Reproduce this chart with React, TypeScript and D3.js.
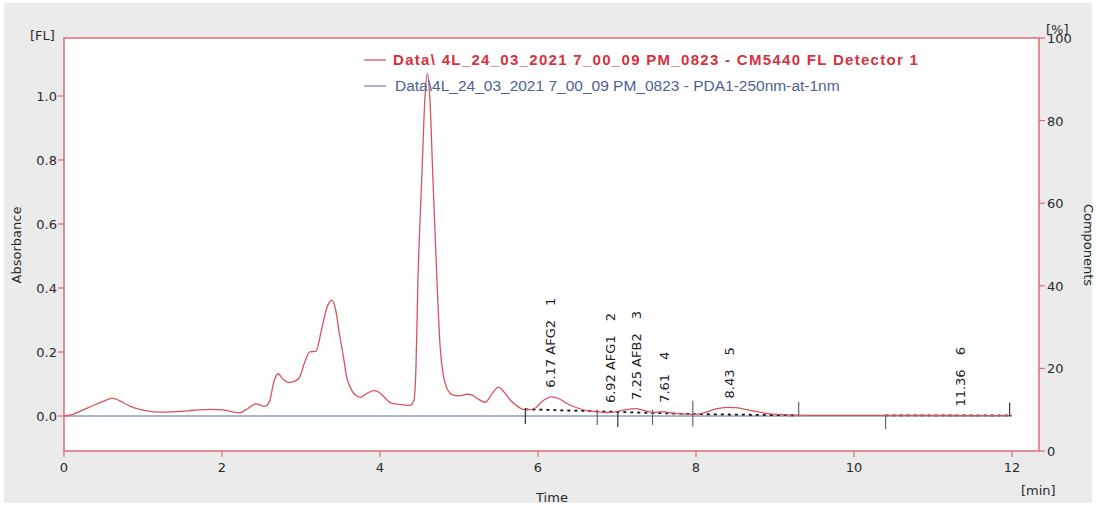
import React from "react";
import * as d3 from "d3";

// ---- data ----
const times = [
  0.0, 0.1, 0.25, 0.4, 0.52, 0.61, 0.7, 0.84, 1.0, 1.13, 1.3, 1.45, 1.65, 1.85, 2.01, 2.12, 2.22, 2.32, 2.43, 2.54,
  2.6, 2.66, 2.71, 2.77, 2.84, 2.93, 2.98, 3.05, 3.11, 3.19, 3.26, 3.33, 3.39, 3.44, 3.49, 3.53, 3.58, 3.64, 3.7, 3.75,
  3.83, 3.92, 4.0, 4.08, 4.13, 4.25, 4.38, 4.43, 4.455, 4.48, 4.53, 4.57, 4.6, 4.63, 4.67, 4.72, 4.76, 4.8, 4.85, 4.92,
  5.0, 5.1, 5.16, 5.25, 5.33, 5.42, 5.5, 5.57, 5.65, 5.73, 5.81, 5.9, 5.97, 6.05, 6.17, 6.27, 6.36, 6.5, 6.62, 6.75,
  6.87, 7.0, 7.1, 7.23, 7.35, 7.46, 7.55, 7.61, 7.7, 7.8, 7.97, 8.1, 8.25, 8.39, 8.5, 8.62, 8.72, 8.85, 8.97, 9.1,
  9.27, 9.5, 10.0, 10.5, 11.0, 11.5, 12.0,
];
const flValues = [
  0.0, 0.004, 0.02, 0.036, 0.048, 0.056, 0.048, 0.03, 0.018, 0.013, 0.012, 0.014, 0.018, 0.021, 0.019, 0.014, 0.01, 0.022, 0.038, 0.03,
  0.045, 0.11, 0.132, 0.116, 0.105, 0.11, 0.12, 0.17, 0.2, 0.203, 0.27, 0.34, 0.362, 0.33, 0.25, 0.196, 0.12, 0.081, 0.063, 0.058,
  0.07, 0.079, 0.072, 0.052, 0.042, 0.036, 0.033, 0.05, 0.15, 0.42, 0.75, 1.0, 1.071, 1.0, 0.74, 0.43, 0.22, 0.13, 0.085, 0.066,
  0.063, 0.068, 0.066, 0.052, 0.043, 0.07, 0.09, 0.075, 0.05, 0.032, 0.021, 0.02, 0.025, 0.045, 0.06, 0.054, 0.04, 0.025, 0.017, 0.013,
  0.011, 0.014, 0.019, 0.023, 0.017, 0.011, 0.013, 0.013, 0.009, 0.007, 0.005, 0.01, 0.022, 0.027, 0.026, 0.021, 0.016, 0.01, 0.006, 0.004,
  0.003, 0.002, 0.002, 0.002, 0.002, 0.001, 0.001,
];
const pdaTimes = [0, 12];
const pdaValues = [0, 0];

const xTicks = [0, 2, 4, 6, 8, 10, 12];
const yLeftTicks = [0, 0.2, 0.4, 0.6, 0.8, 1.0];
const yRightTicks = [0, 20, 40, 60, 80, 100];

const peakTimes = [6.17, 6.92, 7.25, 7.61, 8.43, 11.36];
const peakNames = ["6.17 AFG2", "6.92 AFG1", "7.25 AFB2", "7.61", "8.43", "11.36"];
const peakIds = ["1", "2", "3", "4", "5", "6"];

// integration markers
const markerTimes = [5.84, 6.75, 7.01, 7.45, 7.96, 9.3, 10.4, 11.97];
const markerTop = [0.025, 0.013, 0.016, 0.019, 0.048, 0.044, 0.003, 0.042];
const markerBottom = [-0.025, -0.028, -0.034, -0.028, -0.033, 0.001, -0.041, 0.0];
const markerDark = [true, false, true, false, false, false, false, true];

// dotted integration baselines
const baseStartT = [5.84, 7.96, 10.4];
const baseStartV = [0.021, 0.006, 0.002];
const baseEndT = [7.96, 9.3, 11.97];
const baseEndV = [0.006, 0.002, 0.002];

const legendRed = "Data\\ 4L_24_03_2021 7_00_09 PM_0823 - CM5440 FL Detector 1";
const legendBlue = "Data\\4L_24_03_2021 7_00_09 PM_0823 - PDA1-250nm-at-1nm";

export default function App() {
  const W = 1096, H = 506;
  const left = 64, right = 1039, top = 38, bottom = 451;
  const x = d3.scaleLinear().domain([0, 12]).range([64, 1012]);
  const y = d3.scaleLinear().domain([0, 1]).range([416, 96]);
  const yR = d3.scaleLinear().domain([0, 100]).range([bottom, top]);

  const frameCol = "#e06a76";
  const redCol = "#d9535f";
  const blueCol = "#8b9cbf";
  const txtCol = "#2a2a2a";
  const font = "'DejaVu Sans', Verdana, sans-serif";
  const sans = "'Liberation Sans', Arial, sans-serif";

  const fl = times.map((t, i) => [t, flValues[i]] as [number, number]);
  const pda = pdaTimes.map((t, i) => [t, pdaValues[i]] as [number, number]);
  const line = d3.line<[number, number]>().x(d => x(d[0])).y(d => y(d[1])).curve(d3.curveMonotoneX);

  const interp = (t: number) => {
    const i = d3.bisectLeft(times, t);
    if (i <= 0) return flValues[0];
    if (i >= times.length) return flValues[flValues.length - 1];
    const t0 = times[i - 1], t1 = times[i];
    const f = (t - t0) / (t1 - t0);
    return flValues[i - 1] + f * (flValues[i] - flValues[i - 1]);
  };

  return (
    <div style={{ position: "fixed", left: 0, top: 0, width: W, height: H, background: "#fff" }}>
      <svg width={W} height={H} style={{ display: "block" }}>
        <rect x={4} y={3} width={1088} height={500} fill="#ebebeb" />
        <rect x={left} y={top} width={right - left} height={bottom - top} fill="#fff" />

        <path d={line(pda) || ""} fill="none" stroke={blueCol} strokeWidth={1.5} />

        {baseStartT.map((t, i) => (
          <line key={"b" + i} x1={x(t)} y1={y(baseStartV[i])} x2={x(baseEndT[i])} y2={y(baseEndV[i])}
            stroke="#111" strokeWidth={1.8} strokeDasharray="3,4" />
        ))}

        <path d={line(fl) || ""} fill="none" stroke={redCol} strokeWidth={1.3} />

        {markerTimes.map((t, i) => (
          <line key={"m" + i} x1={x(t)} x2={x(t)} y1={y(markerTop[i])} y2={y(markerBottom[i])}
            stroke={markerDark[i] ? "#333" : "#666"} strokeWidth={1.2} />
        ))}

        {peakTimes.map((t, i) => {
          const px = x(t) + 4;
          const py = y(interp(t)) - 9;
          return (
            <text key={"p" + i} transform={`translate(${px},${py}) rotate(-90)`} fontFamily={font} fontSize={13}
              fill="#222">
              {peakNames[i]}
              <tspan dx={14}>{peakIds[i]}</tspan>
            </text>
          );
        })}

        <rect x={left} y={top} width={right - left} height={bottom - top} fill="none" stroke={frameCol} strokeWidth={1.5} />

        {xTicks.map(t => (
          <g key={"x" + t}>
            <line x1={x(t)} x2={x(t)} y1={bottom} y2={bottom + 6} stroke={frameCol} strokeWidth={1.2} />
            <text x={x(t)} y={472} textAnchor="middle" fontFamily={font} fontSize={13} fill={txtCol}>{t}</text>
          </g>
        ))}
        {yLeftTicks.map(v => (
          <g key={"yl" + v}>
            <line x1={left - 6} x2={left} y1={y(v)} y2={y(v)} stroke={frameCol} strokeWidth={1.2} />
            <text x={57} y={y(v) + 5} textAnchor="end" fontFamily={font} fontSize={13} fill={txtCol}>{v.toFixed(1)}</text>
          </g>
        ))}
        {yRightTicks.map(v => (
          <g key={"yr" + v}>
            <line x1={right} x2={right + 6} y1={yR(v)} y2={yR(v)} stroke={frameCol} strokeWidth={1.2} />
            <text x={1047} y={yR(v) + 5} textAnchor="start" fontFamily={font} fontSize={13} fill={txtCol}>{v}</text>
          </g>
        ))}

        <text x={30} y={40} fontFamily={font} fontSize={13} fill={txtCol}>[FL]</text>
        <text transform="translate(21,245) rotate(-90)" textAnchor="middle" fontFamily={font} fontSize={13} fill={txtCol}>Absorbance</text>
        <text transform="translate(1084,245) rotate(90)" textAnchor="middle" fontFamily={font} fontSize={13} fill={txtCol}>Components</text>
        <text x={1046} y={34} fontFamily={font} fontSize={13} fill={txtCol}>[%]</text>
        <text x={552} y={502} textAnchor="middle" fontFamily={font} fontSize={13} fill={txtCol}>Time</text>
        <text x={1021} y={495} fontFamily={font} fontSize={13} fill={txtCol}>[min]</text>

        <line x1={364} x2={386} y1={60} y2={60} stroke={redCol} strokeWidth={1.3} />
        <text x={393} y={65} fontFamily={sans} fontSize={15} fontWeight="bold"
          letterSpacing={1.3} fill="#d5323f">{legendRed}</text>
        <line x1={364} x2={386} y1={86} y2={86} stroke="#7d8cb0" strokeWidth={1.3} />
        <text x={395} y={91} fontFamily={sans} fontSize={15.5} fill="#4d5f96">{legendBlue}</text>
      </svg>
    </div>
  );
}
